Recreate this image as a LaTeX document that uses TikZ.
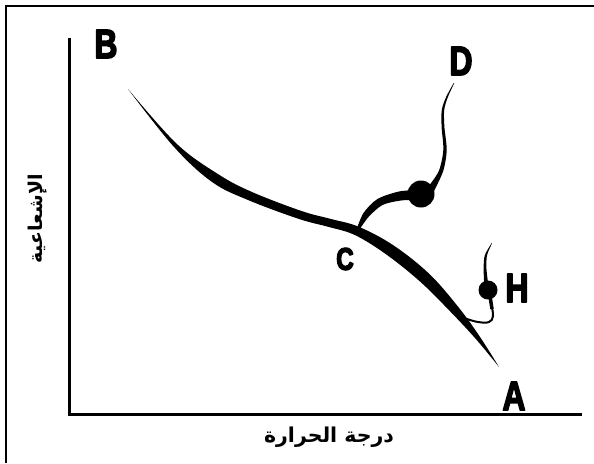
\documentclass[tikz,border=0pt]{standalone}
\usepackage{fontspec}
\setmainfont{Liberation Sans}
\newfontfamily\arabicfont[Script=Arabic]{DejaVu Sans}
\newfontfamily\letterfont{Liberation Sans Bold}
\newcommand\heavyletter[1]{\special{pdf:literal direct 2 Tr 1.6 w 1 j}\scalebox{0.78}[1]{#1}\special{pdf:literal direct 0 Tr}}
\TeXXeTstate=1
\tikzset{
  lett/.style={font=\letterfont\fontsize{41}{41}\selectfont, inner sep=0pt, anchor=center},
  lettsmall/.style={font=\letterfont\fontsize{31}{31}\selectfont, inner sep=0pt, anchor=center},
  axis/.style={line width=3pt},
  frameline/.style={line width=2.2pt},
  blob/.style={circle, fill=black, inner sep=0pt},
  arlabel/.style={font=\arabicfont\bfseries\fontsize{20.5}{20.5}\selectfont, inner sep=0pt}
}
\begin{document}
\begin{tikzpicture}[x=1pt,y=-1pt]
\useasboundingbox (0,0) rectangle (594,463);
\fill[white] (0,0) rectangle (594,463);
% frame
\draw[frameline] (6,463) -- (6,6) -- (594,6);
% axes
\coordinate (O) at (69,414);
\coordinate (ytop) at (69,38);
\coordinate (xend) at (582,414);
\draw[axis] (ytop) -- (O) -- (xend);
% main curve B -> A (tapered)
\fill plot[smooth, tension=0.6] coordinates {(128,89) (176.5,143.6) (218.2,174.2) (252.0,192.0) (301.5,211.0) (331.1,219.0) (358.8,226.8) (393.2,245.2) (429.0,273.6) (458.3,307.0) (479.8,336.6) (499,367)}
  -- plot[smooth, tension=0.6] coordinates {(499,367) (476.2,339.4) (451.7,313.0) (421.0,282.4) (386.8,254.8) (355.2,235.2) (328.9,227.0) (298.5,218.8) (248.0,200.0) (211.8,181.8) (173.5,146.4) (128,89)} -- cycle;
% D branch
\node[blob, minimum size=27pt] (dotD) at (421,194) {};
\fill plot[smooth] coordinates {(356,231) (363.5,213) (377.5,199) (399,191.5) (418,190)}
  -- plot[smooth] coordinates {(418,200) (401,200.5) (382.5,205) (368.5,217) (358.5,231)} -- cycle;
\fill plot[smooth] coordinates {(428,187) (438.8,171) (443.3,150) (441.6,127) (441.8,110) (446.1,97) (453.7,83)}
  -- plot[smooth] coordinates {(454.3,83) (447.9,97) (444.2,110) (444.4,127) (446.7,150) (443.2,171) (434,191)} -- cycle;
% H branch
\node[blob, minimum size=19pt] (dotH) at (488,290) {};
\fill plot[smooth] coordinates {(484.2,284) (483.6,268) (484.9,255) (491.8,243)}
  -- plot[smooth] coordinates {(492.2,243) (487.1,255) (486.4,268) (488.2,284)} -- cycle;
\draw[line width=3.5pt] (490,296) -- (492,309);
\draw[line width=2pt, line cap=round] plot[smooth, tension=0.7] coordinates {(491.5,306) (493,316) (489,322) (478,322) (467,319)};
% labels
\node[lett] (B) at (106,44) {\heavyletter{B}};
\node[lett] (D) at (461,61) {\heavyletter{D}};
\node[lettsmall] (C) at (345,259) {\heavyletter{C}};
\node[lett] (H) at (517,288) {\heavyletter{H}};
\node[lett] (A) at (514,396) {\heavyletter{A}};
\node[arlabel] (xl) at (329,437) {\beginR درجة الحرارة\endR};
\node[arlabel, rotate=90, font=\arabicfont\bfseries\fontsize{19}{19}\selectfont] (yl) at (38,219) {\beginR الإشعاعية\endR};
\end{tikzpicture}
\end{document}
